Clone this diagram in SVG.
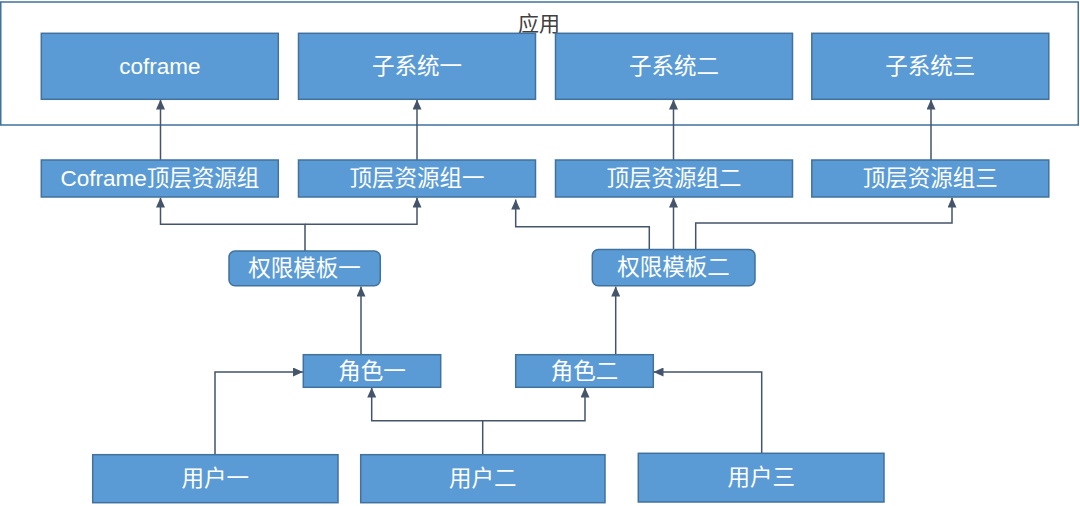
<svg xmlns="http://www.w3.org/2000/svg" width="1080" height="506" viewBox="0 0 1080 506">
<defs>
<style>
.box{fill:#5B9BD5;stroke:#41719C;stroke-width:1.5}
.t{fill:#FFFFFF;font-family:"Liberation Sans","Noto Sans CJK SC",sans-serif;font-size:22.5px;text-anchor:middle;dominant-baseline:central}
.c{fill:none;stroke:#44546A;stroke-width:1.5}
.frame{fill:#FFFFFF;stroke:#41719C;stroke-width:1.5}
.title{fill:#404040;font-family:"Liberation Sans","Noto Sans CJK SC",sans-serif;font-size:21px;text-anchor:middle;dominant-baseline:central}
</style>
<marker id="arr" markerUnits="userSpaceOnUse" markerWidth="10" markerHeight="9" refX="10" refY="4.5" orient="auto">
<path d="M0,0 L10,4.5 L0,9 z" fill="#44546A"/>
</marker>
</defs>
<rect width="1080" height="506" fill="#FFFFFF"/>
<g id="app">
<rect class="frame" x="0.75" y="2" width="1077.5" height="123"/>
<text class="title" x="539" y="23">应用</text>
</g>
<g id="connectors">
<path class="c" d="M160.5,160 V99.5" marker-end="url(#arr)"/>
<path class="c" d="M417,160 V99.5" marker-end="url(#arr)"/>
<path class="c" d="M673.5,160 V99.5" marker-end="url(#arr)"/>
<path class="c" d="M931,160 V99.5" marker-end="url(#arr)"/>
<path class="c" d="M305,251 V224.3 H160.5 V197.5" marker-end="url(#arr)"/>
<path class="c" d="M305,224.3 H417 V197.5" marker-end="url(#arr)"/>
<path class="c" d="M649.3,251 V226.7 H515.7 V199.5" marker-end="url(#arr)"/>
<path class="c" d="M673.5,250 V197.5" marker-end="url(#arr)"/>
<path class="c" d="M695.7,250 V223 H952 V197.5" marker-end="url(#arr)"/>
<path class="c" d="M361,355 V286.5" marker-end="url(#arr)"/>
<path class="c" d="M615.7,355 V286.5" marker-end="url(#arr)"/>
<path class="c" d="M215,455 V372 H303" marker-end="url(#arr)"/>
<path class="c" d="M482.7,455 V420.7 H371.7 V387.5" marker-end="url(#arr)"/>
<path class="c" d="M482.7,420.7 H585 V387.5" marker-end="url(#arr)"/>
<path class="c" d="M761.7,453 V372 H653.5" marker-end="url(#arr)"/>
</g>
<g id="coframe"><rect class="box" x="41.3" y="33.3" width="237" height="66"/><text class="t" x="159.8" y="66.3">coframe</text></g>
<g id="sys1"><rect class="box" x="298.5" y="33.3" width="237" height="66"/><text class="t" x="417" y="66.3">子系统一</text></g>
<g id="sys2"><rect class="box" x="555.5" y="33.3" width="237" height="66"/><text class="t" x="674" y="66.3">子系统二</text></g>
<g id="sys3"><rect class="box" x="811.8" y="33.3" width="237" height="66"/><text class="t" x="930.3" y="66.3">子系统三</text></g>
<g id="res0"><rect class="box" x="41.3" y="160" width="237" height="37"/><text class="t" x="159.8" y="178.5">Coframe顶层资源组</text></g>
<g id="res1"><rect class="box" x="298.5" y="160" width="237" height="37"/><text class="t" x="417" y="178.5">顶层资源组一</text></g>
<g id="res2"><rect class="box" x="555.5" y="160" width="237" height="37"/><text class="t" x="674" y="178.5">顶层资源组二</text></g>
<g id="res3"><rect class="box" x="811.8" y="160" width="237" height="37"/><text class="t" x="930.3" y="178.5">顶层资源组三</text></g>
<g id="tpl1"><rect class="box" x="229" y="251" width="151.3" height="34.7" rx="6"/><text class="t" x="304.6" y="268.3">权限模板一</text></g>
<g id="tpl2"><rect class="box" x="592.3" y="249.5" width="162.7" height="36.2" rx="6"/><text class="t" x="673.6" y="267.6">权限模板二</text></g>
<g id="role1"><rect class="box" x="303.3" y="354.7" width="137.4" height="32.6"/><text class="t" x="372" y="371">角色一</text></g>
<g id="role2"><rect class="box" x="515.7" y="354.7" width="137.6" height="32.6"/><text class="t" x="584.5" y="371">角色二</text></g>
<g id="user1"><rect class="box" x="92.7" y="454.7" width="245.3" height="48"/><text class="t" x="215.3" y="478.7">用户一</text></g>
<g id="user2"><rect class="box" x="360.7" y="454.7" width="244.3" height="48"/><text class="t" x="482.8" y="478.7">用户二</text></g>
<g id="user3"><rect class="box" x="638.3" y="453.3" width="245.7" height="48.7"/><text class="t" x="761.2" y="477.7">用户三</text></g>
</svg>
